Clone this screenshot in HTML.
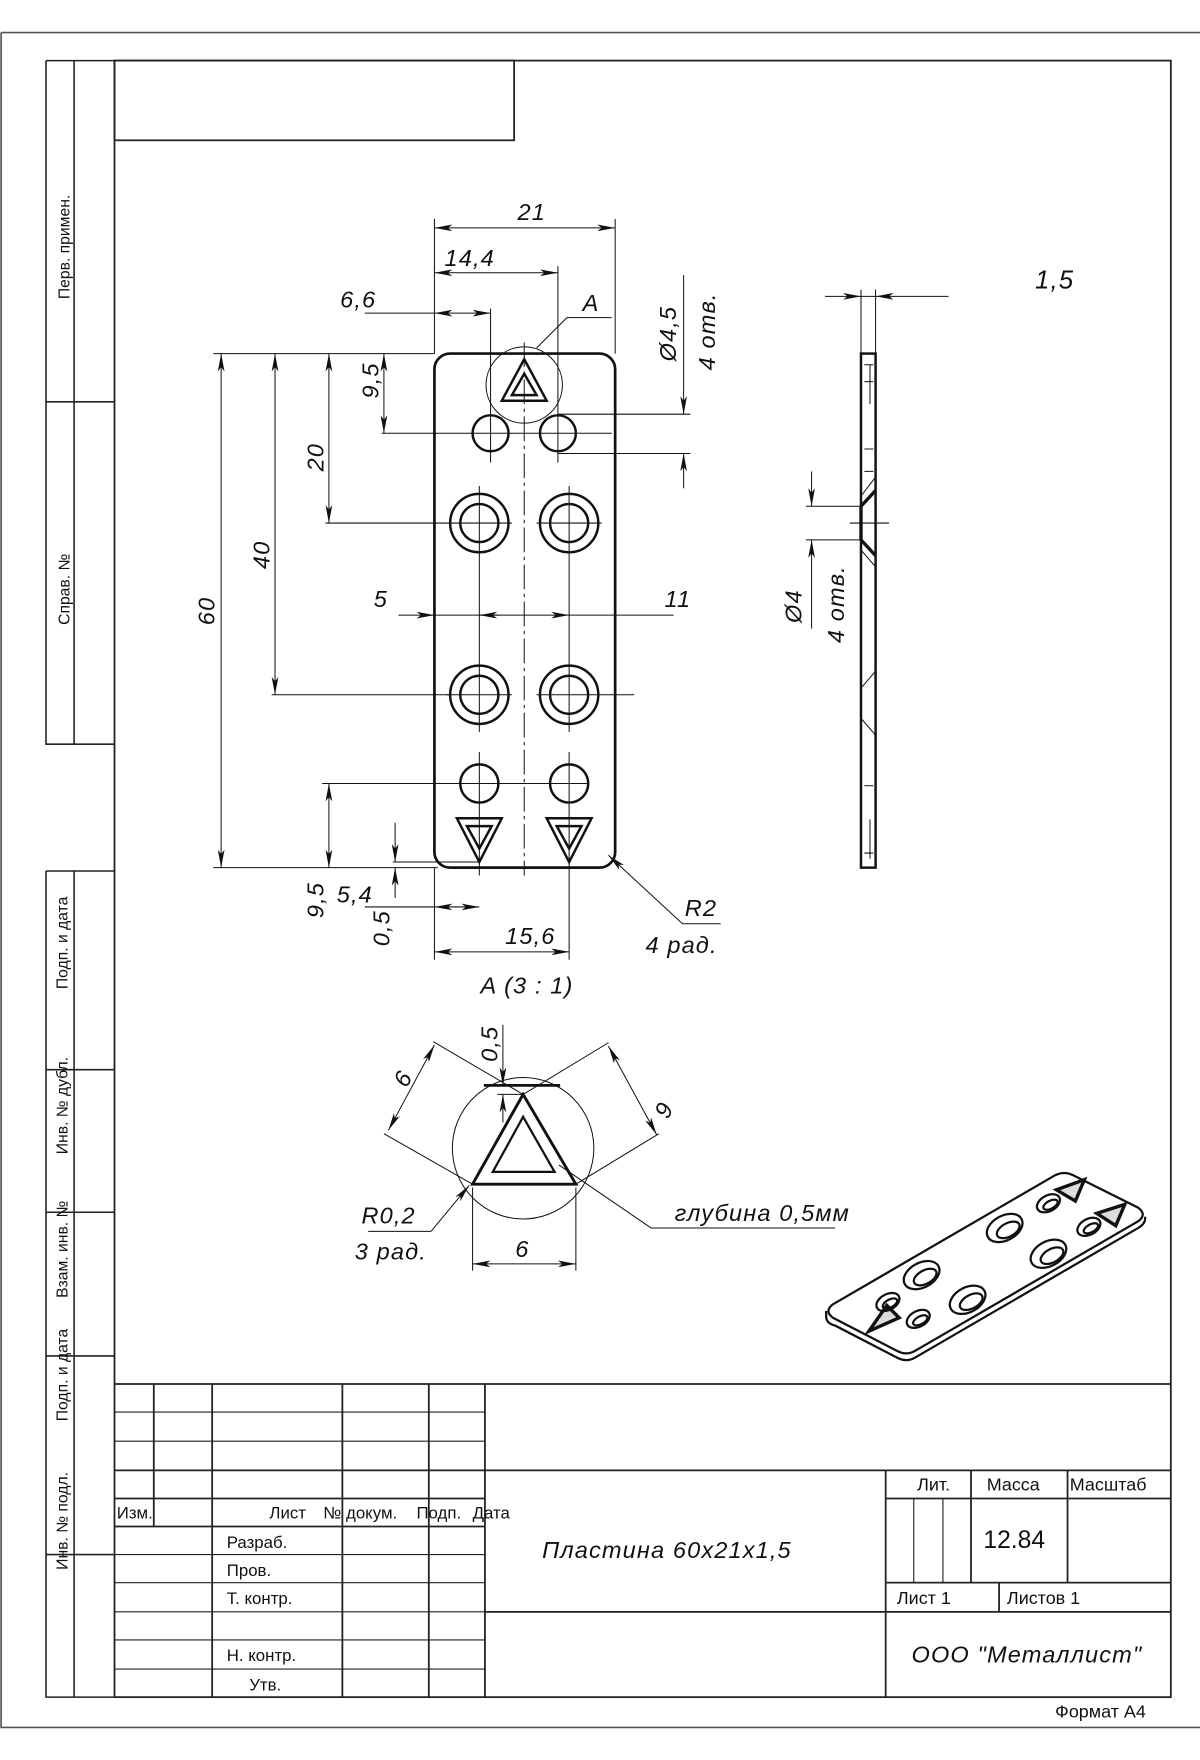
<!DOCTYPE html>
<html><head><meta charset="utf-8"><style>
html,body{margin:0;padding:0;background:#fff}
svg{display:block}
.d{font-family:"Liberation Sans",sans-serif;font-style:italic;font-size:21px;fill:#111;letter-spacing:1px}
.t{font-family:"Liberation Sans Narrow","Liberation Sans",sans-serif;font-size:15px;fill:#111}
.s{font-family:"Liberation Sans",sans-serif;font-size:14px;fill:#111}
</style></head><body>
<svg width="1200" height="1760" viewBox="0 0 1069 1568" preserveAspectRatio="none" xmlns="http://www.w3.org/2000/svg">
<defs>
<marker id="a" viewBox="0 0 16 6" refX="16" refY="3" markerWidth="16" markerHeight="6" markerUnits="userSpaceOnUse" orient="auto-start-reverse"><path d="M0,0 L16,3 L0,6 L4,3 Z" fill="#111"/></marker>
</defs>
<g fill="none" stroke="#222">
<path d="M1,29 H1069 M1,29 V1539 H1069" stroke="#555" stroke-width="1.5"/>
<rect x="102" y="54" width="941" height="1458" stroke-width="1.6"/>
<rect x="102" y="54" width="356" height="71" stroke-width="1.6"/>
<path d="M41,54 V663 H102 M41,54 H102 M66,54 V663 M41,358 H102" stroke-width="1.4"/>
<path d="M41,776 V1512 H102 M41,776 H102 M66,776 V1512 M41,953 H102 M41,1080 H102 M41,1208 H102 M41,1385 H102" stroke-width="1.4"/>
<g stroke-width="1.6">
<path d="M102,1233 H1043 M102,1310 H1043 M102,1335 H432 M102,1360 H432 M432,1436 H1043"/>
<path d="M137,1233 V1360 M189,1233 V1512 M305,1233 V1512 M382,1233 V1512 M432,1233 V1512 M789,1310 V1512"/>
<path d="M789,1335 H1043 M789,1410 H1043 M865,1310 V1410 M951,1310 V1410 M890,1410 V1436"/>
</g>
<path d="M102,1258 H432 M102,1284 H432 M102,1385 H432 M102,1410 H432 M102,1436 H432 M102,1461 H432 M102,1487 H432 M814,1335 V1410 M840,1335 V1410" stroke-width="1"/>
</g>
<g class="s">
<text transform="translate(62,220) rotate(-90)" text-anchor="middle">Перв. примен.</text>
<text transform="translate(62,525) rotate(-90)" text-anchor="middle">Справ. №</text>
<text transform="translate(60,840) rotate(-90)" text-anchor="middle">Подп. и дата</text>
<text transform="translate(60,985) rotate(-90)" text-anchor="middle">Инв. № дубл.</text>
<text transform="translate(60,1113) rotate(-90)" text-anchor="middle">Взам. инв. №</text>
<text transform="translate(60,1225) rotate(-90)" text-anchor="middle">Подп. и дата</text>
<text transform="translate(60,1355) rotate(-90)" text-anchor="middle">Инв. № подл.</text>
</g>
<g class="t">
<text x="104" y="1353">Изм.</text><text x="240" y="1353">Лист</text><text x="288" y="1353">№ докум.</text><text x="371" y="1353">Подп.</text><text x="421" y="1353">Дата</text>
<text x="202" y="1379">Разраб.</text><text x="202" y="1404">Пров.</text><text x="202" y="1429">Т. контр.</text><text x="202" y="1480">Н. контр.</text><text x="222" y="1506">Утв.</text>
<text x="817" y="1328" font-size="16">Лит.</text><text x="879" y="1328" font-size="16">Масса</text><text x="953" y="1328" font-size="16">Масштаб</text>
<text x="876" y="1379" font-size="22">12.84</text>
<text x="799" y="1429" font-size="16">Лист 1</text><text x="897" y="1429" font-size="16">Листов 1</text>
<text x="940" y="1530" font-size="16">Формат А4</text>
</g>
<text class="d" x="483" y="1388" font-size="27" letter-spacing="2">Пластина 60x21x1,5</text>
<text class="d" x="812" y="1481" font-size="24">ООО "Металлист"</text>

<g fill="none" stroke="#111">
<rect x="387" y="315" width="161" height="458" rx="14" stroke-width="2.4"/>
<path d="M467,320 L447,357 L487,357 Z M467,333 L456,352 L478,352 Z" stroke-width="2.2"/>
<path d="M407,729 L447,729 L427,768 Z M416,736 L438,736 L427,756 Z M487,729 L527,729 L507,768 Z M496,736 L518,736 L507,756 Z" stroke-width="2.2"/>
<circle cx="437" cy="386" r="16" stroke-width="2.2"/><circle cx="497" cy="386" r="16" stroke-width="2.2"/>
<circle cx="427" cy="698" r="17" stroke-width="2.2"/><circle cx="507" cy="698" r="17" stroke-width="2.2"/>
<g stroke-width="2.2">
<circle cx="427" cy="466" r="26"/><circle cx="427" cy="466" r="17"/>
<circle cx="507" cy="466" r="26"/><circle cx="507" cy="466" r="17"/>
<circle cx="427" cy="619" r="26"/><circle cx="427" cy="619" r="17"/>
<circle cx="507" cy="619" r="26"/><circle cx="507" cy="619" r="17"/>
</g>
<circle cx="467" cy="343" r="34" stroke-width="0.9"/>
<g stroke-width="0.9">
<path d="M467,305 V780" stroke-dasharray="22 4 3 4"/>
<path d="M437,365 V412 M497,237 V412 M437,275 V365 M427,433 V500 M507,433 V500 M427,586 V652 M507,586 V652 M427,670 V780 M507,670 V855 M427,500 V586 M507,500 V586" />
<path d="M398,466 H456 M478,466 H536 M398,619 H456 M478,619 H565 M410,698 H525"/>
<path d="M387,195 V315 M548,195 V315 M190,315 H387 M190,773 H390 M340,386 H545 M290,466 H401 M242,619 H401 M287,698 H410 M350,768 H427 M387,773 V855 M497,369 H615 M497,404 H615"/>
<path d="M478,310 L505,283 H545"/>
<line x1="387" y1="203" x2="548" y2="203" marker-start="url(#a)" marker-end="url(#a)"/>
<line x1="387" y1="243" x2="497" y2="243" marker-start="url(#a)" marker-end="url(#a)"/>
<path d="M325,279 H387"/><line x1="387" y1="279" x2="437" y2="279" marker-start="url(#a)" marker-end="url(#a)"/>
<line x1="609" y1="245" x2="609" y2="369" marker-end="url(#a)"/><line x1="609" y1="435" x2="609" y2="404" marker-end="url(#a)"/>
<line x1="342" y1="315" x2="342" y2="386" marker-start="url(#a)" marker-end="url(#a)"/>
<line x1="293" y1="315" x2="293" y2="466" marker-start="url(#a)" marker-end="url(#a)"/>
<line x1="245" y1="315" x2="245" y2="619" marker-start="url(#a)" marker-end="url(#a)"/>
<line x1="197" y1="315" x2="197" y2="773" marker-start="url(#a)" marker-end="url(#a)"/>
<line x1="355" y1="548" x2="387" y2="548" marker-end="url(#a)"/>
<line x1="387" y1="548" x2="427" y2="548"/><line x1="445" y1="548" x2="427" y2="548" marker-end="url(#a)"/>
<line x1="427" y1="548" x2="507" y2="548" marker-end="url(#a)"/><path d="M507,548 H600"/>
<line x1="293" y1="698" x2="293" y2="773" marker-start="url(#a)" marker-end="url(#a)"/>
<line x1="352" y1="733" x2="352" y2="768" marker-end="url(#a)"/><line x1="352" y1="800" x2="352" y2="773" marker-end="url(#a)"/>
<path d="M325,808 H387"/><line x1="387" y1="808" x2="427" y2="808" marker-start="url(#a)" marker-end="url(#a)"/>
<line x1="387" y1="848" x2="507" y2="848" marker-start="url(#a)" marker-end="url(#a)"/>
<line x1="608" y1="823" x2="542" y2="762" marker-end="url(#a)"/><path d="M608,823 H642"/>
</g>
</g>
<g class="d">
<text x="461" y="196">21</text>
<text x="396" y="237">14,4</text>
<text x="303" y="274">6,6</text>
<text x="519" y="277">A</text>
<text transform="translate(602,322) rotate(-90)">Ø4,5</text>
<text transform="translate(637,330) rotate(-90)">4 отв.</text>
<text transform="translate(337,355) rotate(-90)">9,5</text>
<text transform="translate(288,420) rotate(-90)">20</text>
<text transform="translate(240,507) rotate(-90)">40</text>
<text transform="translate(191,557) rotate(-90)">60</text>
<text x="333" y="541">5</text>
<text x="592" y="541">11</text>
<text transform="translate(288,818) rotate(-90)">9,5</text>
<text x="300" y="804">5,4</text>
<text transform="translate(347,843) rotate(-90)">0,5</text>
<text x="450" y="841">15,6</text>
<text x="610" y="816">R2</text>
<text x="575" y="849">4 рад.</text>
<text x="428" y="885">A (3 : 1)</text>
<text x="922" y="257" font-size="23">1,5</text>
<text transform="translate(714,555) rotate(-90)">Ø4</text>
<text transform="translate(752,573) rotate(-90)">4 отв.</text>
</g>

<g fill="none" stroke="#111">
<rect x="767" y="315" width="13" height="458" stroke-width="2.2"/>
<path d="M767,451 V481 M767,451 L780,437 M767,481 L780,495" stroke-width="3"/>
<g stroke-width="0.9">
<path d="M767,258 V315 M780,258 V315"/>
<line x1="735" y1="264" x2="767" y2="264" marker-end="url(#a)"/><line x1="845" y1="264" x2="780" y2="264" marker-end="url(#a)"/>
<path d="M767,264 H780 M718,451 H767 M718,481 H767 M757,466 H792"/>
<line x1="723" y1="420" x2="723" y2="451" marker-end="url(#a)"/><line x1="723" y1="560" x2="723" y2="481" marker-end="url(#a)"/>
<path d="M770,325 H778 M770,340 H778 M770,400 H778 M770,420 H778 M767,442 L780,425 M767,490 L780,505 M767,613 L780,598 M767,640 L780,655 M770,700 H778 M770,760 H778 M775,325 V360 M775,730 V765"/>
</g>
</g>

<g fill="none" stroke="#111">
<circle cx="466" cy="1023" r="63" stroke-width="0.9"/>
<path d="M466,975 L421,1055 L513,1055 Z" stroke-width="2.6"/>
<path d="M466,995 L439,1044 L494,1044 Z" stroke-width="2"/>
<path d="M431,967 H499" stroke-width="2.4"/>
<g stroke-width="0.9">
<path d="M386,928 L466,975 M342,1010 L421,1055 M542,929 L466,975 M587,1010 L513,1055 M443,975 H466 M421,1058 V1132 M513,1058 V1132"/>
<line x1="387" y1="931" x2="346" y2="1007" marker-start="url(#a)" marker-end="url(#a)"/>
<line x1="542" y1="932" x2="585" y2="1011" marker-start="url(#a)" marker-end="url(#a)"/>
<line x1="448" y1="913" x2="448" y2="967" marker-end="url(#a)"/><line x1="448" y1="1000" x2="448" y2="975" marker-end="url(#a)"/>
<line x1="421" y1="1126" x2="513" y2="1126" marker-start="url(#a)" marker-end="url(#a)"/>
<line x1="384" y1="1097" x2="418" y2="1056" marker-end="url(#a)"/><path d="M384,1097 H328"/>
<path d="M498,1038 L580,1094 H744"/>
</g>
</g>
<g class="d">
<text transform="translate(362,970) rotate(-60)">6</text>
<text transform="translate(588,980) rotate(118)">6</text>
<text transform="translate(443,946) rotate(-90)">0,5</text>
<text x="322" y="1090">R0,2</text>
<text x="316" y="1122">3 рад.</text>
<text x="459" y="1120">6</text>
<text x="601" y="1088">глубина 0,5мм</text>
</g>

<g fill="none" stroke="#111" stroke-width="2">
<path d="M742,1162 L940,1047 Q948,1043 956,1047 L1014,1076 Q1022,1082 1014,1088 L816,1203 Q808,1208 800,1204 L742,1174 Q734,1168 742,1162 Z"/>
<path d="M736,1168 V1173 Q736,1179 744,1181 L800,1210 Q808,1214 816,1209 L1014,1094 Q1021,1090 1020,1084"/>
<g transform="rotate(-28 821 1136)"><ellipse cx="821" cy="1136" rx="17" ry="11"/><ellipse cx="823" cy="1139" rx="11" ry="6"/></g>
<g transform="rotate(-28 862 1158)"><ellipse cx="862" cy="1158" rx="17" ry="11"/><ellipse cx="864" cy="1161" rx="11" ry="6"/></g>
<g transform="rotate(-28 895 1094)"><ellipse cx="895" cy="1094" rx="17" ry="11"/><ellipse cx="897" cy="1097" rx="11" ry="6"/></g>
<g transform="rotate(-28 934 1117)"><ellipse cx="934" cy="1117" rx="17" ry="11"/><ellipse cx="936" cy="1120" rx="11" ry="6"/></g>
<g transform="rotate(-28 791 1160)"><ellipse cx="791" cy="1160" rx="11" ry="7"/><ellipse cx="792" cy="1162" rx="7" ry="3.5"/></g>
<g transform="rotate(-28 818 1175)"><ellipse cx="818" cy="1175" rx="11" ry="7"/><ellipse cx="819" cy="1177" rx="7" ry="3.5"/></g>
<g transform="rotate(-28 934 1072)"><ellipse cx="934" cy="1072" rx="11" ry="7"/><ellipse cx="935" cy="1074" rx="7" ry="3.5"/></g>
<g transform="rotate(-28 970 1093)"><ellipse cx="970" cy="1093" rx="11" ry="7"/><ellipse cx="971" cy="1095" rx="7" ry="3.5"/></g>
<path d="M774,1186 L801,1174 L790,1163 Z M941,1060 L966,1051 L958,1070 Z M977,1081 L1002,1073 L994,1092 Z" stroke-width="3" fill="#111" fill-opacity="0.15"/>
</g>
</svg>
</body></html>
